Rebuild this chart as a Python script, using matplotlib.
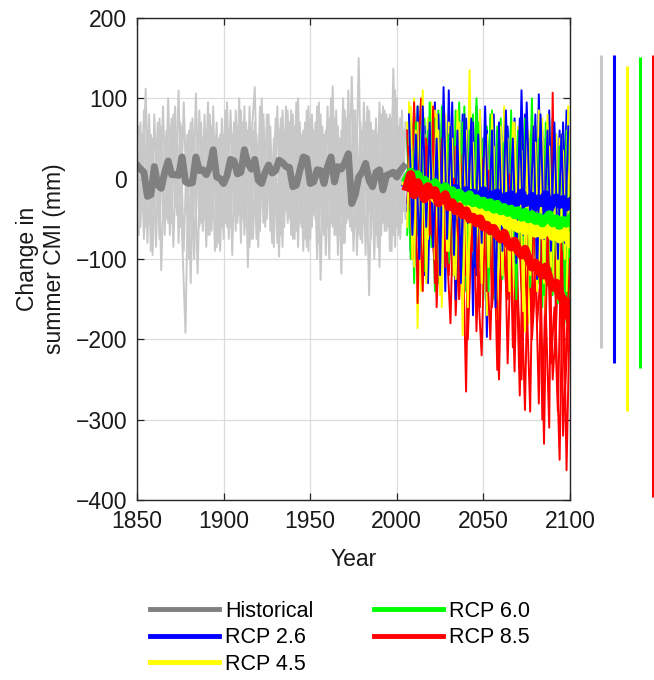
import numpy as np
import matplotlib
matplotlib.use('Agg')
import matplotlib.pyplot as plt

plt.rcParams['font.family'] = ['Liberation Sans', 'DejaVu Sans']
plt.rcParams['font.size'] = 16.5

# ---- historical (1850-2005), 2-year steps ----
hist_mean = [17, 12, 8, -22, -20, 15, -8, -12, 8, 22,
             5, 5, 4, 27, -4, -6, -5, 27, 10, 11,
             5, 14, 36, 2, 0, -6, 4, 24, 22, 6,
             8, 36, 19, 12, 24, -2, -6, 8, 17, 7,
             10, 23, 20, 15, 14, -10, -8, 10, 27, 25,
             -6, -4, 11, 10, -6, 15, 27, -4, 15, 12,
             20, 31, -31, -20, 2, 8, 19, -2, -10, 8,
             11, -14, 4, 6, 8, 2, 10, 15]

hist_a = [40, -60, 85, -80, 55, -40, 70, -114, 45, -55,
          75, -35, 110, -70, -192, 60, -75, 106, -60, 50,
          -85, 80, -30, 70, -90, 55, -60, 85, -45, 65,
          -80, 90, -110, 50, 114, -70, 60, -50, 80, -65,
          45, -97, 85, -40, 70, -75, 95, -55, 60, -85,
          75, -45, 90, -126, 55, -60, 100, -70, 65, -118,
          85, -50, 127, -60, 150, -80, 70, -145, 60, -70,
          95, -55, 80, -90, 137, -60, 75, -40]
hist_b = [-50, 70, -75, 60, -90, 80, -45, 65, -70, 100,
          -55, 90, -80, 65, 40, -100, 75, -50, 85, -65,
          60, -70, 90, -85, 55, -75, 95, -60, 70, -55,
          85, -70, 60, -75, 70, -85, 100, -60, 50, -80,
          75, 60, -85, 90, -50, 80, -65, 70, -90, 85,
          -75, 60, -100, 80, -70, 90, -55, 75, -95, 60,
          -80, 110, -65, 85, -70, 60, -95, 85, -50, 75,
          -110, 90, -65, 80, -70, 100, -75, 60]
hist_c = [65, -40, 112, -55, 50, -85, 75, -35, 60, -70,
          80, -45, 70, -90, 55, -130, 45, -118, 70, -50,
          95, -65, 40, -80, 75, -55, 60, -95, 85, -45,
          70, -60, 90, -75, 55, -65, 80, -50, 65, -85,
          90, -70, 60, -55, 85, -75, 100, -60, 70, -90,
          80, -50, 95, -65, 60, -100, 115, -70, 50, -80,
          75, -60, 85, -95, 70, -55, 90, -75, 60, -85,
          80, -65, 75, -90, 110, -70, 85, -50]
hist_d = [-70, 55, -60, 80, -95, 45, -75, 90, -50, 65,
          -85, 55, -60, 95, -45, 70, -100, 60, -55, 80,
          -70, 65, -90, 50, -60, 85, -75, 55, -65, 100,
          -50, 70, -85, 60, -75, 90, -55, 80, -65, 50,
          -80, 75, -60, 85, -70, 65, -85, 55, -75, 90,
          -60, 70, -80, 65, -95, 75, -60, 85, -70, 100,
          -55, 80, -90, 60, -75, 95, -65, 70, -100, 55,
          -70, 85, -60, 75, -85, 65, -55, 70]

# ---- projections (2006-2100) ----
rcp26_a = [60, -90, 85, -60, 40, -120, 75, -70, 95, -50,
           70, -140, 110, -80, 55, -100, 80, -60, 65, -170,
           90, -70, 50, -197, 75, -90, 60, -110, 85, -75,
           70, -130, 55, -95, 80, -60, 65, -120, 105, -80,
           50, -110, 75, -90, 60, -70, 85, -50]
rcp26_b = [-40, 70, -110, 90, -75, 65, -130, 55, -60, 80,
           -95, 60, -70, 95, -150, 50, -85, 75, -60, 70,
           -120, 85, -90, 60, -75, 80, -140, 55, -70, 65,
           -100, 75, -85, 110, -60, 50, -95, 80, -120, 60,
           -70, 85, -90, 55, -140, 70, -60, 40]
rcp26_c = [80, -70, 55, -100, 90, -60, 70, -85, 50, -120,
           114, -75, 65, -95, 60, -130, 80, -55, 75, -110,
           55, -80, 90, -65, 60, -160, 70, -90, 85, -60,
           50, -105, 75, -70, 95, -55, 65, -125, 80, -75,
           60, -90, 70, -100, 55, -80, 65]

rcp45_a = [70, -80, 100, -186, 50, -90, 75, -60, 85, -120,
           60, -95, 70, -110, 80, -150, 55, -135, 135, -90,
           65, -100, 45, -170, 70, -120, 50, -140, 90, -110,
           40, -160, 65, -130, 55, -180, 60, -120, 85, -150,
           45, -135, 70, -110, 50, -160, 40, -90]
rcp45_b = [-60, 90, -110, 70, -140, 55, -75, 95, -100, 60,
           -160, 80, -90, 50, -125, 70, -195, 60, -110, 45,
           -95, 85, -140, 55, -100, 40, -175, 65, -120, 50,
           -145, 70, -95, 35, -190, 60, -130, 45, -110, 75,
           -170, 40, -125, 55, -150, 35, -140, 60]
rcp45_c = [95, -100, 60, -80, 110, -130, 70, -55, 80, -145,
           50, -90, 65, -120, 85, -100, 55, -160, 70, -85,
           45, -130, 60, -110, 80, -150, 40, -120, 55, -140,
           70, -95, 35, -165, 50, -120, 65, -140, 45, -130,
           80, -110, 40, -150, 55, -100, 90]

rcp60_a = [50, -100, 80, -70, 95, -115, 60, -85, 75, -130,
           90, -60, 55, -120, 85, -90, 70, -140, 60, -75,
           100, -110, 50, -95, 80, -150, 65, -100, 45, -125,
           85, -90, 60, -140, 75, -110, 100, -95, 50, -160,
           70, -120, 55, -135, 40, -110, 60, -150]
rcp60_b = [-70, 65, -130, 90, -60, 75, -95, 55, -140, 85,
           -80, 70, -105, 60, -85, 95, -130, 50, -100, 80,
           -70, 55, -150, 65, -90, 45, -120, 75, -100, 60,
           -135, 50, -95, 80, -165, 55, -110, 65, -130, 40,
           -100, 70, -145, 50, -120, 35, -180, 45]
rcp60_c = [85, -55, 70, -90, 60, -125, 95, -70, 50, -100,
           80, -85, 65, -115, 55, -95, 90, -130, 45, -105,
           70, -90, 60, -140, 85, -100, 50, -125, 75, -110,
           40, -150, 65, -95, 55, -135, 45, -115, 70, -145,
           60, -130, 35, -155, 50, -140, 80]

rcp85_a = [60, -40, 95, -155, 20, -80, 40, -60, -110, 30,
           -70, 55, -120, -30, 40, -150, -60, -265, 10, -90,
           -40, -160, 20, -100, -200, -50, -238, -120, 0, -150,
           -90, -240, -30, -140, -288, -60, -180, -100, -280, -40,
           -160, -310, 107, -200, -350, -90, -363, -150]
rcp85_b = [-30, 70, -100, 20, 100, -60, -20, 80, -130, -40,
           50, -110, -10, 40, -170, -60, 30, -120, -80, 0,
           -190, -50, 25, -140, -90, 15, -200, -110, -30, -230,
           -70, 20, -150, -250, -100, -40, -200, -130, -20, -300,
           -120, -70, -250, -180, -60, -320, -200, -100]
rcp85_c = [40, -100, 70, -20, -140, 50, -70, 90, -160, -30,
           30, -90, -180, 0, -60, -120, 40, -200, -80, -20,
           -140, -220, -40, 10, -160, -90, -250, -50, -130, 5,
           -210, -100, -270, -60, -150, -290, -20, -180, -120, -330,
           -50, -230, -160, -290, -80, -270, -180]

rcp26_mean = [-8, -12, -5, -15, -10, -20, -8, -18, -12, -25,
              -15, -10, -22, -18, -12, -28, -20, -15, -25, -18,
              -30, -22, -15, -28, -20, -32, -18, -25, -30, -22,
              -20, -35, -25, -18, -30, -28, -22, -35, -25, -30,
              -20, -38, -28, -24, -32, -26, -35, -30]
rcp45_mean = [-5, 5, -10, 0, -12, -20, -8, -15, -25, -18,
              -22, -30, -20, -28, -35, -25, -30, -40, -32, -38,
              -45, -35, -42, -50, -40, -48, -55, -45, -52, -60,
              -50, -58, -62, -55, -65, -60, -58, -68, -62, -70,
              -65, -60, -72, -68, -75, -65, -70, -80]
rcp60_mean = [0, 8, -5, 5, -10, -2, -8, -15, -5, -12,
              -18, -10, -20, -15, -25, -18, -22, -28, -20, -30,
              -25, -32, -28, -35, -30, -38, -32, -40, -36, -42,
              -38, -45, -40, -48, -42, -50, -45, -52, -48, -55,
              -50, -45, -55, -50, -58, -52, -55, -50]
rcp85_mean = [-10, 5, -20, -5, -15, -25, -10, -20, -15, -30,
              -25, -20, -35, -30, -40, -35, -45, -40, -50, -48,
              -55, -50, -60, -58, -65, -62, -70, -75, -68, -80,
              -85, -78, -90, -95, -88, -100, -110, -105, -115, -120,
              -110, -125, -135, -130, -145, -150, -160, -175]

# ranges shown as bars to the right of the axes
range_labels = ['Historical', 'RCP 2.6', 'RCP 4.5', 'RCP 6.0', 'RCP 8.5']
range_low = [-211, -229, -289, -236, -396]
range_high = [154, 154, 140, 151, 154]

colors = ['#808080', '#0000ff', '#ffff00', '#00ff00', '#ff0000']
thin_hist = '#c8c8c8'

yr_hist_even = np.arange(1850, 2005, 2)
yr_hist_odd = np.arange(1851, 2006, 2)
yr_fut_even = np.arange(2006, 2101, 2)
yr_fut_odd = np.arange(2007, 2100, 2)

fig = plt.figure(figsize=(6.54, 6.80), dpi=100)
ax = fig.add_axes([137/654, 1-500/680, 433/654, 482/680])

for s in [hist_a, hist_b]:
    ax.plot(yr_hist_even, s, color=thin_hist, lw=1.4)
for s in [hist_c, hist_d]:
    ax.plot(yr_hist_odd, s, color=thin_hist, lw=1.4)

# model runs, interleaved across scenarios
thin = [(rcp26_a, rcp26_b, rcp26_c), (rcp45_a, rcp45_b, rcp45_c),
        (rcp60_a, rcp60_b, rcp60_c), (rcp85_a, rcp85_b, rcp85_c)]
orders = [(0, 1, 2, 3), (2, 3, 0, 1), (3, 2, 1, 0)]
for j in range(3):
    yrs = yr_fut_odd if j == 2 else yr_fut_even
    for k in orders[j]:
        ax.plot(yrs, thin[k][j], color=colors[k+1], lw=1.4)

handles = []
h, = ax.plot(yr_hist_even, hist_mean, color=colors[0], lw=5)
handles.append(h)
for k, m in enumerate([rcp26_mean, rcp45_mean, rcp60_mean, rcp85_mean]):
    h, = ax.plot(yr_fut_even, m, color=colors[k+1], lw=6.5)
    handles.append(h)

# range bars outside the axes
for i in range(5):
    ax.vlines(2118 + 7.5*i, range_low[i], range_high[i],
              color=colors[i] if i else thin_hist, lw=2.2, clip_on=False)

ax.set_xlim(1850, 2100)
ax.set_ylim(-400, 200)
ax.set_xticks(np.arange(1850, 2101, 50))
ax.set_yticks(np.arange(-400, 201, 100))
ax.grid(True, color='#dcdcdc', lw=0.9)
ax.set_axisbelow(True)
ax.tick_params(direction='in', top=True, right=True, length=5, width=0.9,
               color='#262626', labelcolor='#1a1a1a', pad=7)
for sp in ax.spines.values():
    sp.set_color('#262626')
    sp.set_linewidth(1.0)

ax.set_xlabel('Year', color='#1a1a1a', labelpad=11)
ax.set_ylabel('Change in\nsummer CMI (mm)', color='#1a1a1a', labelpad=7)

leg = fig.legend(handles, range_labels, ncol=2, frameon=False,
                 loc='upper left', bbox_to_anchor=(139/654, 1-590/680),
                 handlelength=3.2, handletextpad=0.3, columnspacing=2.8,
                 labelspacing=0.25, borderpad=0, fontsize=15.5)
for line in leg.get_lines():
    line.set_linewidth(3.5)

fig.savefig('out.png', dpi=100)
